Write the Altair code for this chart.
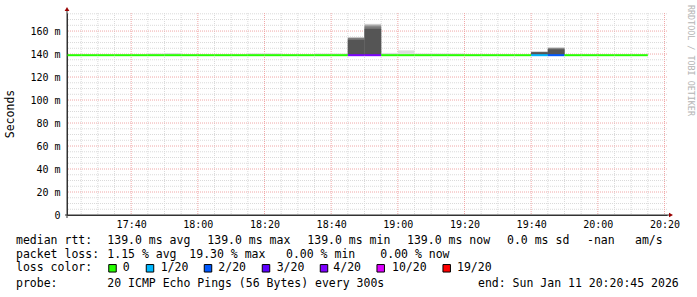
import altair as alt
import pandas as pd

# ---------------- data ----------------
bin_start = ["17:20", "17:25", "17:30", "17:35", "17:40", "17:45", "17:50", "17:55",
             "18:00", "18:05", "18:10", "18:15", "18:20", "18:25", "18:30", "18:35",
             "18:40", "18:45", "18:50", "18:55", "19:00", "19:05", "19:10", "19:15",
             "19:20", "19:25", "19:30", "19:35", "19:40", "19:45", "19:50", "19:55",
             "20:00", "20:05", "20:10"]
median_ms = [139.0, 139.0, 139.0, 139.0, 139.0, 139.0, 139.0, 139.0,
             139.0, 139.0, 139.0, 139.0, 139.0, 139.0, 139.0, 139.0,
             139.0, 139.0, 139.0, 139.0, 139.0, 139.0, 139.0, 139.0,
             139.0, 139.0, 139.0, 139.0, 139.0, 139.0, 139.0, 139.0,
             139.0, 139.0, 139.0]
loss_bin = ["0", "0", "0", "0", "0", "0", "0", "0",
            "0", "0", "0", "0", "0", "0", "0", "0",
            "0", "4/20", "4/20", "0", "0", "0", "0", "0",
            "0", "0", "0", "0", "1/20", "2/20", "0", "0",
            "0", "0", "0"]

smoke_start = ["17:45", "17:50", "18:15", "18:20", "18:35", "18:40", "18:45", "18:50",
               "18:55", "19:00", "19:05", "19:10", "19:15", "19:40", "19:45"]
smoke_max = [140.5, 140.9, 140.6, 140.6, 140.5, 140.5, 154.8, 166.3,
             141.0, 143.2, 140.5, 140.5, 140.5, 142.3, 145.8]
smoke_hi = [139.0, 139.0, 139.0, 139.0, 139.0, 139.0, 154.3, 165.5,
            139.0, 139.0, 139.0, 139.0, 139.0, 142.0, 145.5]
smoke_mid = [139.0, 139.0, 139.0, 139.0, 139.0, 139.0, 153.9, 164.1,
             139.0, 139.0, 139.0, 139.0, 139.0, 141.8, 145.0]
smoke_core = [139.0, 139.0, 139.0, 139.0, 139.0, 139.0, 152.4, 162.0,
              139.0, 139.0, 139.0, 139.0, 139.0, 141.5, 144.1]

loss_keys = ["0", "1/20", "2/20", "3/20", "4/20", "10/20", "19/20"]
loss_colors = ["#26ff00", "#00b8ff", "#0059ff", "#5e00ff", "#7e00ff", "#dd00ff", "#ff0000"]

y_tick_values = [0, 20, 40, 60, 80, 100, 120, 140, 160]
x_tick_labels = ["17:40", "18:00", "18:20", "18:40", "19:00", "19:20", "19:40", "20:00", "20:20"]

rtt_label = "median rtt:"
rtt_stats = ["139.0 ms avg", "139.0 ms max", "139.0 ms min", "139.0 ms now",
             "0.0 ms sd", "-nan", "am/s"]
loss_label = "packet loss:"
loss_stats = ["1.15 % avg", "19.30 % max", "0.00 % min", "0.00 % now"]
color_label = "loss color:"
probe_label = "probe:"
probe_text = "20 ICMP Echo Pings (56 Bytes) every 300s"
end_text = "end: Sun Jan 11 20:20:45 2026"
y_title = "Seconds"
watermark = "RRDTOOL / TOBI OETIKER"

# ---------------- helpers / layout ----------------
def mins(t):
    h, m = t.split(":")
    return (int(h) - 17) * 60 + int(m)

STEP = 5
X0, X1 = 20.75, 200.75          # 17:20:45 .. 20:20:45
W, H = 600, 202
YMAX = 175.7
L, T = 67, 13                   # plot origin in page px

xs = alt.Scale(domain=[X0, X1], nice=False, zero=False)
ys = alt.Scale(domain=[0, YMAX], nice=False, zero=False)

bins = pd.DataFrame({
    "s": [mins(t) for t in bin_start],
    "med": median_ms,
    "loss": loss_bin,
})
bins["e"] = bins["s"] + STEP

smoke = pd.DataFrame({
    "s": [mins(t) for t in smoke_start],
    "mx": smoke_max, "hi": smoke_hi, "mid": smoke_mid, "core": smoke_core,
})
smoke["e"] = smoke["s"] + STEP
smoke["base"] = 139.0

x_ticks = [mins(t) for t in x_tick_labels]

vminor = pd.DataFrame({"v": [m for m in range(25, 201, 5) if m not in x_ticks]})
vmajor = pd.DataFrame({"v": x_ticks})
hminor = pd.DataFrame({"v": [v for v in range(5, 176, 5) if v % 20 != 0]})
hmajor = pd.DataFrame({"v": [v for v in y_tick_values if v > 0]})

MONO = "DejaVu Sans Mono"

label_expr_x = ("(17 + floor(datum.value / 60)) + ':' + "
                "(datum.value % 60 < 10 ? '0' : '') + (datum.value % 60)")
label_expr_y = "datum.value == 0 ? '0' : datum.value + ' m'"

XAXIS = alt.Axis(
    values=x_ticks, labelExpr=label_expr_x, title=None, grid=False, ticks=False,
    domain=True, domainColor="#333333", domainWidth=1,
    labelFont=MONO, labelFontSize=10, labelColor="#000000",
    labelBaseline="middle", labelPadding=9, labelFlush=False, labelOverlap=False)
YAXIS = alt.Axis(
    values=y_tick_values, labelExpr=label_expr_y, title=None, grid=False, ticks=False,
    domain=True, domainColor="#333333", domainWidth=1,
    labelFont=MONO, labelFontSize=10, labelColor="#000000",
    labelPadding=7, labelFlush=False, labelOverlap=False)

grid_minor_col = "#dadada"
grid_major_col = "#f0a8a8"

layers = []
# invisible carrier layer for both axes
layers.append(alt.Chart(bins).mark_point(opacity=0).encode(
    x=alt.X("s:Q", scale=xs, axis=XAXIS), y=alt.Y("med:Q", scale=ys, axis=YAXIS)))

layers.append(alt.Chart(vminor).mark_rule(strokeDash=[1, 1], color=grid_minor_col, strokeWidth=1)
              .encode(x=alt.X("v:Q", scale=xs, axis=XAXIS)))
layers.append(alt.Chart(hminor).mark_rule(strokeDash=[1, 1], color=grid_minor_col, strokeWidth=1)
              .encode(y=alt.Y("v:Q", scale=ys, axis=YAXIS)))
layers.append(alt.Chart(vmajor).mark_rule(strokeDash=[1, 1], color=grid_major_col, strokeWidth=1)
              .encode(x=alt.X("v:Q", scale=xs, axis=XAXIS)))
layers.append(alt.Chart(hmajor).mark_rule(strokeDash=[1, 1], color=grid_major_col, strokeWidth=1)
              .encode(y=alt.Y("v:Q", scale=ys, axis=YAXIS)))

for col, c in [("mx", "#dcdcdc"), ("hi", "#a8a8a8"), ("mid", "#7c7c7c"), ("core", "#555555")]:
    layers.append(alt.Chart(smoke).mark_rect(color=c, clip=True).encode(
        x=alt.X("s:Q", scale=xs, axis=XAXIS), x2="e:Q",
        y=alt.Y("base:Q", scale=ys, axis=YAXIS), y2=f"{col}:Q"))

median_layer = alt.Chart(bins).mark_rule(strokeWidth=2, clip=True).encode(
    x=alt.X("s:Q", scale=xs, axis=XAXIS),
    x2="e:Q",
    y=alt.Y("med:Q", scale=ys, axis=YAXIS),
    color=alt.Color("loss:N", scale=alt.Scale(domain=loss_keys, range=loss_colors), legend=None),
)
layers.append(median_layer)

one = pd.DataFrame({"a": [0]})

# axis extensions and arrows
layers.append(alt.Chart(one).mark_rule(color="#333333", strokeWidth=1).encode(
    x=alt.value(0), y=alt.value(-3), y2=alt.value(H + 3)))
layers.append(alt.Chart(one).mark_rule(color="#333333", strokeWidth=1).encode(
    x=alt.value(-2), x2=alt.value(W + 2), y=alt.value(H)))
layers.append(alt.Chart(one).mark_point(shape="triangle-up", filled=True, color="#990000",
                                        size=22, opacity=1).encode(
    x=alt.value(0), y=alt.value(-4)))
layers.append(alt.Chart(one).mark_point(shape="triangle-right", filled=True, color="#990000",
                                        size=22, opacity=1).encode(
    x=alt.value(W + 4), y=alt.value(H)))


def text_at(txt, px, py, size=11.5, color="#000000", angle=0, align="left", font=MONO):
    kw = dict(align=align, baseline="middle", font=font, fontSize=size, color=color)
    if angle:
        kw["angle"] = angle
    return alt.Chart(pd.DataFrame({"t": [txt]})).mark_text(**kw).encode(
        x=alt.value(px - L), y=alt.value(py - T), text="t:N")


# y title and watermark
layers.append(text_at(y_title, 11, 114, size=11.5, angle=270, align="center"))
layers.append(text_at(watermark, 690.5, 5, size=8.4, color="#b4b4b4", angle=90, align="left"))

# legend rows
row_y = [241.3, 255.3, 268.3, 283.7]
label_x = 16
rtt_x = [107.3, 207.3, 307.3, 407.0, 507.0, 587.0, 635.0]
loss_x = [107.3, 189.3, 286.0, 380.3]
swatch_x = [112.5, 150.0, 208.0, 266.0, 324.0, 380.7, 446.7]
key_x = [122.7, 160.7, 218.3, 276.7, 333.3, 392.0, 457.0]

layers.append(text_at(rtt_label, label_x, row_y[0]))
for s, px in zip(rtt_stats, rtt_x):
    layers.append(text_at(s, px, row_y[0]))
layers.append(text_at(loss_label, label_x, row_y[1]))
for s, px in zip(loss_stats, loss_x):
    layers.append(text_at(s, px, row_y[1]))
layers.append(text_at(color_label, label_x, row_y[2]))
for k, c, sx, kx in zip(loss_keys, loss_colors, swatch_x, key_x):
    layers.append(alt.Chart(one).mark_square(size=56, filled=True, stroke="#000000",
                                             strokeWidth=1, opacity=1).encode(
        x=alt.value(sx - L), y=alt.value(row_y[2] - T), fill=alt.value(c)))
    layers.append(text_at(k, kx, row_y[2]))
layers.append(text_at(probe_label, label_x, row_y[3]))
layers.append(text_at(probe_text, 107.3, row_y[3]))
layers.append(text_at(end_text, 478.0, row_y[3]))

chart = alt.layer(*layers).properties(
    width=W, height=H,
    autosize=alt.AutoSizeParams(type="none"),
    padding={"left": L, "top": T, "right": 697 - L - W, "bottom": 297 - T - H},
    background="#ffffff",
).configure_view(stroke=None)

chart.save("out.html", embed_options={"renderer": "svg", "actions": False})
